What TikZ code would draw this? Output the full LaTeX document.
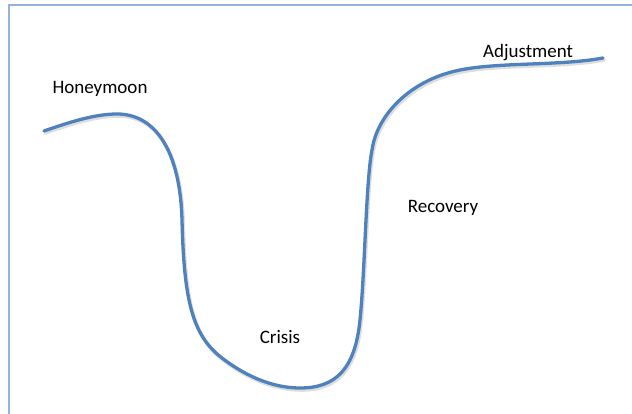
\documentclass[tikz,border=0pt]{standalone}
\usepackage{fontspec}
\setmainfont{Carlito}
\begin{document}
\begin{tikzpicture}[x=1pt,y=-1pt,
  frame/.style={draw=framecol,line width=1.6pt},
  phase/.style={draw=curvecol,line width=3.3pt,line cap=round,line join=round},
  phaseshadow/.style={draw=black,opacity=0.13,line width=3.6pt,line cap=round},
  stage/.style={font=\fontsize{19}{22}\selectfont,inner sep=0pt}]
\definecolor{curvecol}{RGB}{79,129,189}
\definecolor{framecol}{RGB}{149,179,215}
\useasboundingbox (0,0) rectangle (632,414);
\fill[white] (0,0) rectangle (632,414);
% outer frame, open to the right and bottom
\draw[frame] (9,420) -- (9,5) -- (640,5);
% culture-shock curve: honeymoon, crisis, recovery, adjustment
\def\curvepath{(44,131) .. controls (70,122) and (95,114) .. (117,114)
  .. controls (155,114) and (180,150) .. (182,220)
  .. controls (184,300) and (192,335) .. (222,358)
  .. controls (248,378) and (275,388) .. (300,388)
  .. controls (335,388) and (355,370) .. (360,320)
  .. controls (365,270) and (366,180) .. (372,150)
  .. controls (377,115) and (410,80) .. (460,70)
  .. controls (500,62) and (560,66) .. (603,58)}
\draw[phaseshadow,shift={(1.2,2)}] \curvepath;
\draw[phase] \curvepath;
\node[stage] (honeymoon) at (100,89) {Honeymoon};
\node[stage] (crisis) at (280,337) {Crisis};
\node[stage] (recovery) at (443,208) {Recovery};
\node[stage] (adjustment) at (528,53) {Adjustment};
\end{tikzpicture}
\end{document}
